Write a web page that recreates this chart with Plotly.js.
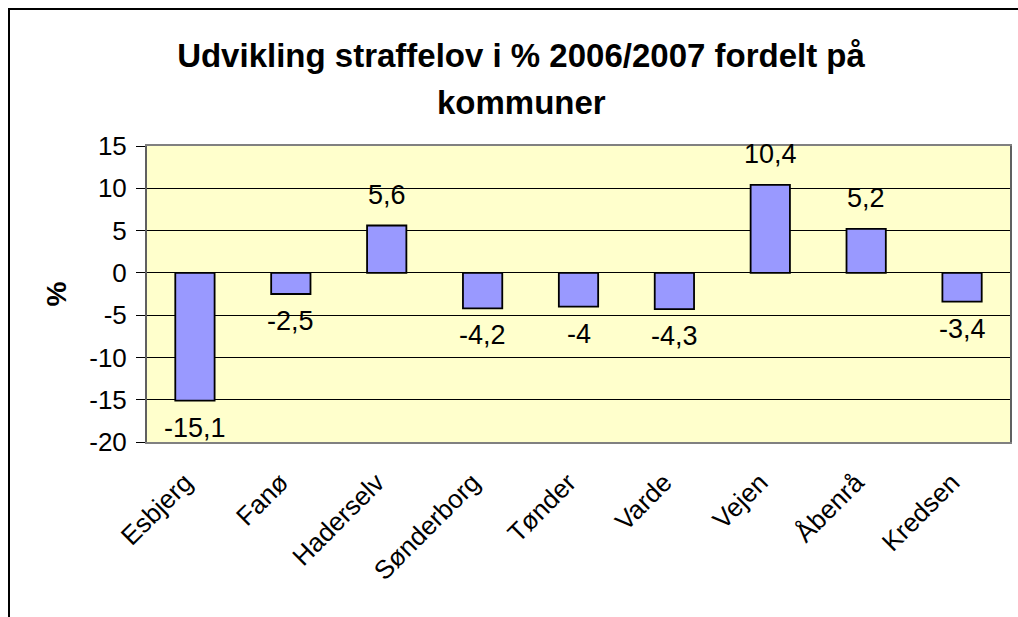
<!DOCTYPE html>
<html>
<head>
<meta charset="utf-8">
<script src="https://cdn.plot.ly/plotly-3.0.1.min.js"></script>
<style>
html,body{margin:0;padding:0;background:#fff;}
#chart{width:1018px;height:617px;}
</style>
</head>
<body>
<div id="chart"></div>
<script>
const categories = ["Esbjerg", "Fanø", "Haderselv", "Sønderborg", "Tønder", "Varde", "Vejen", "Åbenrå", "Kredsen"];
const values = [-15.1, -2.5, 5.6, -4.2, -4, -4.3, 10.4, 5.2, -3.4];
const labels = values.map(v => String(v).replace('.', ','));
const yTicks = [-20, -15, -10, -5, 0, 5, 10, 15];
const yTickText = yTicks.map(v => String(v));
const titleLine1 = "Udvikling straffelov i % 2006/2007 fordelt på";
const titleLine2 = "kommuner";
const yTitle = "%";

const FONT = "Liberation Sans, Arial, sans-serif";
const W = 1018, H = 617;
const M = {l: 147, r: 8, t: 146, b: 175};
const pw = W - M.l - M.r, ph = H - M.t - M.b;
const ymin = -20, ymax = 15;

const trace = {
  type: 'bar',
  x: categories,
  y: values,
  marker: {color: '#9999FF', line: {color: '#000000', width: 1.8}},
  hoverinfo: 'x+y'
};

const annotations = categories.map((c, i) => ({
  x: c, y: values[i], xref: 'x', yref: 'y',
  text: labels[i], showarrow: false,
  yanchor: values[i] >= 0 ? 'bottom' : 'top',
  yshift: values[i] >= 0 ? 14 : -10,
  font: {family: FONT, size: 27, color: '#000'}
}));
annotations.push({
  text: titleLine2, xref: 'paper', yref: 'paper',
  x: (521 - M.l) / pw, y: 1, yanchor: 'middle', xanchor: 'center', yshift: 44,
  showarrow: false, font: {family: FONT, size: 33, color: '#000', weight: 'bold'}
});

const boundaryTicks = [];
for (let i = 0; i <= categories.length; i++) boundaryTicks.push(i - 0.5);

const layout = {
  width: W, height: H,
  margin: M,
  paper_bgcolor: '#ffffff',
  plot_bgcolor: '#FFFFCC',
  showlegend: false,
  bargap: 0.59,
  font: {family: FONT, size: 26, color: '#000'},
  title: {
    text: titleLine1, xref: 'container', yref: 'container',
    x: 521 / W, xanchor: 'center', y: 1 - 55 / H, yanchor: 'middle',
    font: {family: FONT, size: 33, color: '#000', weight: 'bold'}
  },
  xaxis: {
    type: 'category',
    range: [-0.5, categories.length - 0.5],
    tickangle: -45,
    ticks: '',
    ticklabelstandoff: 13,
    ticklabelshift: -10,
    tickfont: {family: FONT, size: 26, color: '#000'},
    showline: true, linecolor: '#808080', linewidth: 2, mirror: true,
    showgrid: false, zeroline: false
  },
  xaxis2: {
    overlaying: 'x', anchor: 'free',
    position: (0 - ymin) / (ymax - ymin),
    range: [-0.5, categories.length - 0.5],
    tickmode: 'array', tickvals: boundaryTicks,
    showticklabels: false,
    ticks: 'outside', ticklen: 9, tickwidth: 1.5, tickcolor: '#000',
    showline: true, linecolor: '#555555', linewidth: 1.5,
    showgrid: false, zeroline: false, fixedrange: true
  },
  yaxis: {
    range: [ymin, ymax],
    tickmode: 'array', tickvals: yTicks, ticktext: yTickText,
    ticks: 'outside', ticklen: 9, tickwidth: 1, tickcolor: '#000',
    ticklabelstandoff: 4,
    tickfont: {family: FONT, size: 26, color: '#000'},
    showgrid: true, gridcolor: '#000000', gridwidth: 1,
    zeroline: false,
    showline: true, linecolor: '#606060', linewidth: 2, mirror: true,
    title: {text: yTitle, standoff: 14, font: {family: FONT, size: 28, color: '#000', weight: 'bold'}}
  },
  annotations: annotations,
  shapes: [{
    type: 'rect', xref: 'paper', yref: 'paper',
    x0: (9 - M.l) / pw, x1: (W + 20 - M.l) / pw,
    y0: (M.t + ph - (H + 20)) / ph, y1: (M.t + ph - 9) / ph,
    line: {color: '#000', width: 2}, layer: 'above'
  }]
};

Plotly.newPlot('chart', [trace], layout, {displayModeBar: false, staticPlot: true});
</script>
</body>
</html>
